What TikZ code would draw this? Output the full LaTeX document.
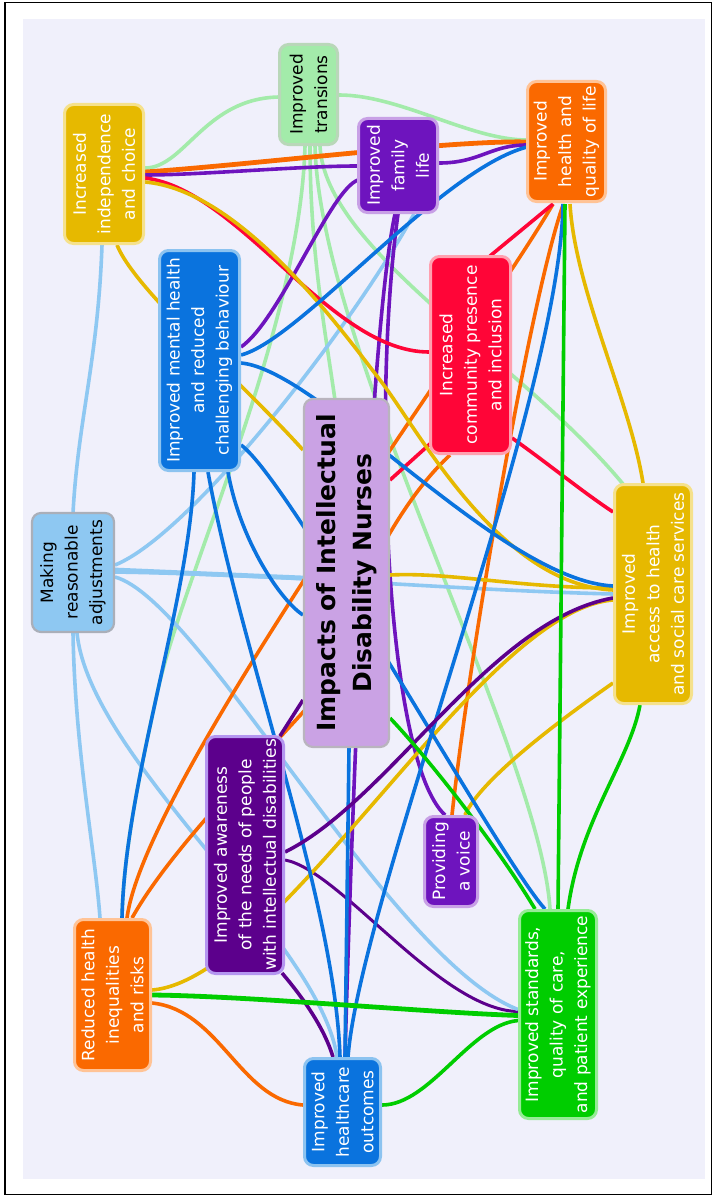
\documentclass[tikz,border=0pt]{standalone}
\usepackage{fontspec}
\setmainfont{DejaVu Sans}
\usetikzlibrary{calc}
\pgfdeclarelayer{bglayer}
\pgfsetlayers{bglayer,main}
\definecolor{bgc}{RGB}{240,240,251}
\definecolor{cyel}{RGB}{230,185,0}
\definecolor{cyelR}{RGB}{245,225,140}
\definecolor{cltg}{RGB}{163,235,170}
\definecolor{cltgR}{RGB}{185,215,185}
\definecolor{cpur}{RGB}{110,20,190}
\definecolor{cpurR}{RGB}{200,160,230}
\definecolor{cora}{RGB}{250,105,0}
\definecolor{coraR}{RGB}{255,195,150}
\definecolor{cblu}{RGB}{10,115,222}
\definecolor{cbluR}{RGB}{140,195,240}
\definecolor{cred}{RGB}{255,5,55}
\definecolor{credR}{RGB}{255,160,175}
\definecolor{clbl}{RGB}{142,200,242}
\definecolor{clblR}{RGB}{170,175,185}
\definecolor{ccen}{RGB}{202,162,228}
\definecolor{ccenR}{RGB}{185,180,190}
\definecolor{cdpu}{RGB}{92,0,140}
\definecolor{cdpuR}{RGB}{180,150,240}
\definecolor{cgrn}{RGB}{0,205,0}
\definecolor{cgrnR}{RGB}{150,235,150}
\tikzset{
  box/.style={rectangle, rounded corners=9pt, line width=3pt, inner sep=0pt,
    align=center, rotate=90, text=white, font=\fontsize{17}{24.5}\selectfont},
  ed/.style={line width=3.6pt},
  edthick/.style={line width=4.8pt}
}
\begin{document}
\begin{tikzpicture}[x=1pt,y=-1pt]
\useasboundingbox (0,0) rectangle (713,1196);
\begin{pgfonlayer}{bglayer}
\fill[white] (0,0) rectangle (713,1196);
\fill[bgc] (23,19) rectangle (705,1179);
\draw[line width=1.5pt] (5,2.5) rectangle (711.5,1194.5);
\end{pgfonlayer}

% nodes
\node[box, fill=cyel, draw=cyelR, minimum width=139pt, minimum height=79pt] (indep) at (104,174) {Increased\\independence\\and choice};
\node[box, fill=cltg, draw=cltgR, text=black, minimum width=100pt, minimum height=58pt] (trans) at (308.5,94.5) {Improved\\transions};
\node[box, fill=cpur, draw=cpurR, minimum width=94pt, minimum height=79pt] (family) at (398,165.5) {Improved\\family\\life};
\node[box, fill=cora, draw=coraR, minimum width=120pt, minimum height=78pt] (health) at (566.5,141.5) {Improved\\health and\\quality of life};
\node[box, fill=cblu, draw=cbluR, minimum width=220pt, minimum height=80pt] (mh) at (199.5,360.5) {Improved mental health\\and reduced\\challenging behaviour};
\node[box, fill=cred, draw=credR, minimum width=197pt, minimum height=80pt] (comm) at (470.5,355) {Increased\\community presence\\and inclusion};
\node[box, fill=clbl, draw=clblR, line width=2.2pt, text=black, minimum width=119pt, minimum height=82pt] (making) at (73,572.5) {Making\\reasonable\\adjustments};
\node[box, fill=ccen, draw=ccenR, line width=2.2pt, text=black, minimum width=348pt, minimum height=85pt, font=\fontsize{25}{36}\selectfont\bfseries] (center) at (346.5,573) {Impacts of Intellectual\\Disability Nurses};
\node[box, fill=cyel, draw=cyelR, minimum width=219pt, minimum height=77pt] (access) at (653,594) {Improved\\access to health\\and social care services};
\node[box, fill=cdpu, draw=cdpuR, minimum width=237pt, minimum height=77pt] (aware) at (245,855) {Improved awareness\\of the needs of people\\with intellectual disabilities};
\node[box, fill=cpur, draw=cpurR, minimum width=90pt, minimum height=53pt] (voice) at (451,861.5) {Providing\\a voice};
\node[box, fill=cora, draw=coraR, minimum width=151pt, minimum height=76pt] (reduced) at (112.5,995) {Reduced health\\inequalities\\and risks};
\node[box, fill=cblu, draw=cbluR, minimum width=107pt, minimum height=76pt] (outcomes) at (342.5,1112) {Improved\\healthcare\\outcomes};
\node[box, fill=cgrn, draw=cgrnR, minimum width=208pt, minimum height=77pt] (standards) at (558,1014.5) {Improved standards,\\quality of care,\\and patient experience};

\begin{pgfonlayer}{bglayer}
% light green (transitions)
\draw[ed, cltg] ($(trans)+(-27.5,2.5)$) .. controls (205,97) and (185,168) .. ($(indep)+(41,-6)$);
\draw[ed, cltg] ($(trans)+(30.5,0.5)$) .. controls (400,95) and (470,140) .. ($(health)+(-39.5,-1.5)$);
\draw[ed, cltg] ($(trans)+(-3.5,51.5)$) .. controls (300,330) and (183.25,573.9) .. (157.6,691.25) .. controls (140.5,769.5) and (123.5,849) .. ($(reduced)+(9.5,-77)$);
\draw[ed, cltg] ($(trans)+(1.5,51.5)$) .. controls (310,250) and (325,330) .. ($(center)+(-11.5,-173)$);
\draw[ed, cltg] ($(trans)+(6.5,51.5)$) .. controls (320,350) and (540,750) .. ($(standards)+(-8,-105.5)$);
\draw[ed, cltg] ($(trans)+(11.5,51.5)$) .. controls (325,250) and (520,360) .. ($(access)+(-30,-110)$);
% light blue (making)
\draw[ed, clbl] ($(indep)+(-2,71)$) .. controls (98,360) and (78,420) .. ($(making)+(0,-59.5)$);
\draw[ed, clbl] ($(making)+(42,-7.5)$) .. controls (190,535) and (350,330) .. ($(family)+(16,48.5)$);
\draw[edthick, clbl] ($(making)+(42,-2.5)$) -- ($(center)+(-43.5,5)$);
\draw[ed, clbl] ($(making)+(42,-0.5)$) .. controls (300,575) and (450,590) .. ($(access)+(-40,0)$);
\draw[ed, cdpu, line width=3pt] ($(aware)+(40,5)$) .. controls (340,870) and (440,1010) .. ($(standards)+(-40,-3)$);
\draw[ed, clbl] ($(making)+(42,4.5)$) .. controls (200,600) and (390,960) .. ($(standards)+(-40,-5)$);
\draw[ed, clbl] ($(making)+(0,60.5)$) .. controls (75,750) and (95,850) .. ($(reduced)+(-12.5,-77)$);
\draw[ed, clbl] ($(making)+(4,60.5)$) .. controls (90,760) and (320,940) .. ($(outcomes)+(-5.5,-55)$);
% orange
\draw[edthick, cora] ($(health)+(-39.5,0.5)$) .. controls (450,140) and (250,165) .. ($(indep)+(41,-2)$);
\draw[ed, cora] ($(reduced)+(14.5,-77)$) .. controls (145,780) and (480,330) .. ($(health)+(-13.5,62.5)$);
\draw[ed, cora] ($(reduced)+(19.5,-77)$) .. controls (170,850) and (260,760) .. (305,710) .. controls (340,640) and (380,520) .. ($(comm)+(-20.5,100)$);
\draw[ed, cora] ($(health)+(-3.5,63.5)$) .. controls (530,300) and (470,650) .. ($(voice)+(1,-46.5)$);
\draw[ed, cora] ($(reduced)+(39.5,8)$) .. controls (220,1010) and (240,1100) .. ($(outcomes)+(-39.5,-7)$);
% purple (family, voice)
\draw[ed, cpur] ($(family)+(-41,0.5)$) .. controls (300,166) and (200,175) .. ($(indep)+(41,1)$);
\draw[ed, cpur] ($(family)+(41,-2.5)$) .. controls (480,163) and (490,145) .. ($(health)+(-39.5,3.5)$);
\draw[ed, cpur] ($(family)+(-40,14.5)$) .. controls (330,190) and (280,320) .. ($(mh)+(41.5,-13.5)$);
\draw[ed, cpur] ($(family)+(-3,48.5)$) .. controls (370,330) and (352,800) .. ($(outcomes)+(2.5,-55)$);
\draw[ed, cpur] ($(voice)+(-6,-46.5)$) .. controls (385,760) and (372,400) .. ($(family)+(0,48.5)$);
% red
\draw[ed, cred] ($(comm)+(-41.5,-3)$) .. controls (330,352) and (240,190) .. ($(indep)+(41,4)$);
\draw[ed, cred] ($(comm)+(19.5,-99)$) -- ($(health)+(-13.5,62.5)$);
\draw[ed, cred] ($(comm)+(-39.5,88)$) -- ($(center)+(43.5,-93)$);
\draw[ed, cred] ($(comm)+(41.5,83)$) .. controls (550,465) and (580,490) .. ($(access)+(-40,-82)$);
% yellow
\draw[ed, cyel] ($(indep)+(41,8)$) .. controls (240,190) and (340,328) .. (380,380) .. controls (420,432) and (500,585) .. ($(access)+(-40,-4)$);
\draw[ed, cyel] ($(indep)+(13,71)$) .. controls (135,290) and (240,380) .. ($(center)+(-43.5,-123)$);
\draw[ed, cyel] ($(access)+(-10,-111)$) .. controls (630,400) and (575,290) .. ($(health)+(3.5,62.5)$);
\draw[ed, cyel] ($(access)+(-40,-6)$) .. controls (520,588) and (450,572) .. ($(center)+(43.5,2)$);
\draw[ed, cyel] ($(access)+(-40,6)$) .. controls (480,610) and (280,980) .. ($(reduced)+(39.5,-5)$);
\draw[ed, cyel] ($(access)+(-40,89)$) .. controls (560,720) and (480,780) .. ($(voice)+(14,-46.5)$);
% blue
\draw[ed, cblu] ($(mh)+(41.5,-5.5)$) .. controls (300,340) and (440,170) .. ($(health)+(-39.5,5.5)$);
\draw[ed, cblu] ($(mh)+(41.5,2.5)$) .. controls (320,370) and (500,580) .. ($(access)+(-40,-8)$);
\draw[ed, cblu] ($(mh)+(41.5,84.5)$) .. controls (290,480) and (500,860) .. ($(standards)+(-13,-105.5)$);
\draw[ed, cblu] ($(mh)+(28.5,111.5)$) .. controls (240,540) and (280,600) .. ($(center)+(-43.5,42)$);
\draw[ed, cblu] ($(mh)+(-5.5,111.5)$) .. controls (190,600) and (125,780) .. ($(reduced)+(9.5,-77)$);
\draw[ed, cblu] ($(mh)+(8.5,111.5)$) .. controls (240,650) and (335,900) .. ($(outcomes)+(-2.5,-55)$);
\draw[ed, cblu] ($(outcomes)+(2.5,-55)$) -- ($(center)+(2.5,175)$);
\draw[ed, cblu] ($(outcomes)+(5.5,-55)$) .. controls (360,900) and (560,400) .. ($(health)+(-3.5,62.5)$);
% dark purple (awareness)
\draw[ed, cdpu] ($(aware)+(35,-119)$) -- ($(center)+(-43.5,127)$);
\draw[ed, cdpu] ($(aware)+(40,-3)$) .. controls (390,800) and (490,620) .. ($(access)+(-40,4)$);
\draw[ed, cdpu] ($(aware)+(37,118)$) .. controls (305,1000) and (325,1030) .. ($(outcomes)+(-9.5,-55)$);
% green (standards)
\draw[edthick, cgrn] ($(standards)+(-40,1)$) .. controls (420,1012) and (250,996) .. ($(reduced)+(39.5,0)$);
\draw[ed, cgrn] ($(standards)+(-40,6)$) .. controls (470,1025) and (430,1105) .. ($(outcomes)+(39.5,-7)$);
\draw[ed, cgrn] ($(standards)+(-23,-105.5)$) .. controls (500,850) and (430,760) .. ($(center)+(43.5,145)$);
\draw[ed, cgrn] ($(standards)+(0,-105.5)$) -- ($(health)+(-1.5,62.5)$);
\draw[ed, cgrn] ($(standards)+(10,-105.5)$) .. controls (580,820) and (630,760) .. ($(access)+(-13,111)$);
\end{pgfonlayer}
\end{tikzpicture}
\end{document}
